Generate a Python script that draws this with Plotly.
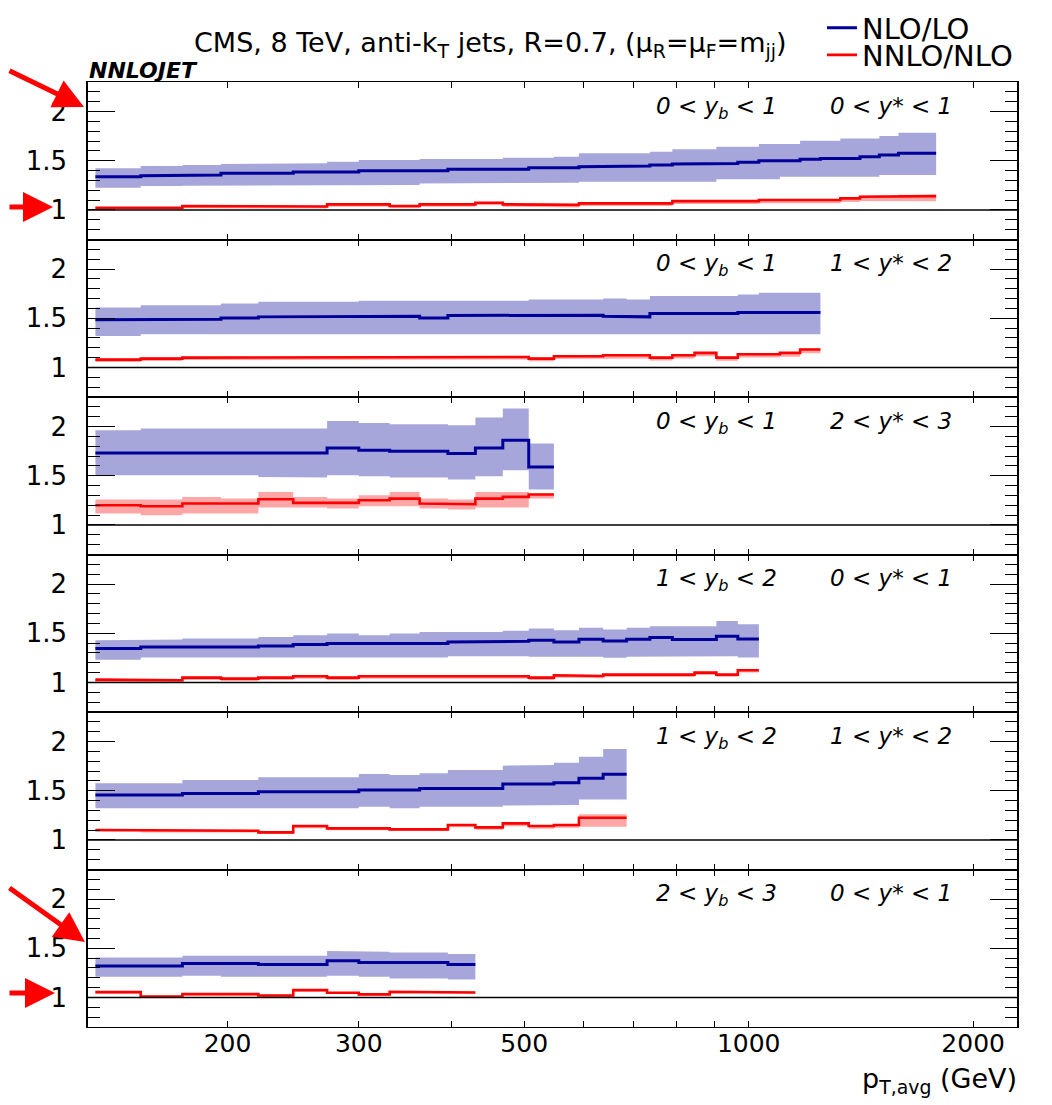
import numpy as np
import plotly.graph_objects as go

# ---------------- data ----------------
pt_edges = [133, 153, 174, 196, 220, 245, 272, 300, 330, 362, 395, 430, 468, 507, 548, 592,
            638, 686, 737, 790, 846, 905, 967, 1032, 1101, 1172, 1248, 1327, 1410, 1497, 1588,
            1684, 1784]

x_tick_vals = [200, 300, 500, 1000, 2000]
x_tick_text = ["200", "300", "500", "1000", "2000"]
x_minor_vals = [400, 600, 700, 800, 900]
x_long_vals = [1000, 2000]
y_tick_vals = [1, 1.5, 2]
y_tick_text = ["1", "1.5", "2"]
y_minor_vals = [0.8, 0.9, 1.1, 1.2, 1.3, 1.4, 1.6, 1.7, 1.8, 1.9, 2.1, 2.2]

yb_labels = ["0 &lt; y<sub>b</sub> &lt; 1", "0 &lt; y<sub>b</sub> &lt; 1", "0 &lt; y<sub>b</sub> &lt; 1",
             "1 &lt; y<sub>b</sub> &lt; 2", "1 &lt; y<sub>b</sub> &lt; 2", "2 &lt; y<sub>b</sub> &lt; 3"]
ys_labels = ["0 &lt; y* &lt; 1", "1 &lt; y* &lt; 2", "2 &lt; y* &lt; 3",
             "0 &lt; y* &lt; 1", "1 &lt; y* &lt; 2", "0 &lt; y* &lt; 1"]

# panel 1: 0<yb<1, 0<y*<1
p1_nlo = [1.338, 1.348, 1.355, 1.372, 1.372, 1.385, 1.385, 1.399, 1.399, 1.399, 1.413, 1.413, 1.413,
          1.429, 1.429, 1.439, 1.446, 1.446, 1.456, 1.467, 1.467, 1.473, 1.484, 1.501, 1.501, 1.514,
          1.524, 1.524, 1.541, 1.558, 1.575, 1.575]
p1_nlo_hi = [1.423, 1.446, 1.457, 1.467, 1.467, 1.474, 1.490, 1.507, 1.507, 1.518, 1.518, 1.518, 1.530,
             1.530, 1.541, 1.575, 1.575, 1.575, 1.592, 1.616, 1.616, 1.643, 1.643, 1.670, 1.670, 1.704,
             1.704, 1.727, 1.727, 1.751, 1.785, 1.785]
p1_nlo_lo = [1.226, 1.243, 1.247, 1.247, 1.247, 1.253, 1.253, 1.253, 1.253, 1.270, 1.270, 1.270, 1.277,
             1.277, 1.277, 1.287, 1.287, 1.287, 1.287, 1.287, 1.287, 1.311, 1.311, 1.311, 1.338, 1.338,
             1.338, 1.338, 1.338, 1.355, 1.355, 1.355]
p1_nnlo = [1.023, 1.023, 1.040, 1.040, 1.040, 1.035, 1.057, 1.057, 1.040, 1.057, 1.057, 1.074, 1.057,
           1.052, 1.052, 1.067, 1.067, 1.067, 1.067, 1.090, 1.090, 1.090, 1.090, 1.101, 1.101, 1.101,
           1.101, 1.118, 1.135, 1.135, 1.141, 1.141]
p1_nnlo_hi = [1.031, 1.031, 1.048, 1.048, 1.048, 1.043, 1.065, 1.065, 1.048, 1.065, 1.065, 1.082, 1.065,
              1.060, 1.060, 1.075, 1.075, 1.075, 1.075, 1.098, 1.098, 1.098, 1.098, 1.109, 1.109, 1.109,
              1.109, 1.126, 1.145, 1.145, 1.155, 1.155]
p1_nnlo_lo = [1.005, 1.005, 1.018, 1.018, 1.018, 1.014, 1.032, 1.032, 1.018, 1.032, 1.032, 1.048, 1.032,
              1.026, 1.026, 1.040, 1.040, 1.040, 1.040, 1.060, 1.060, 1.060, 1.060, 1.068, 1.068, 1.068,
              1.068, 1.080, 1.092, 1.092, 1.088, 1.088]

# panel 2: 0<yb<1, 1<y*<2
p2_nlo = [1.485, 1.490, 1.490, 1.503, 1.514, 1.514, 1.514, 1.520, 1.520, 1.503, 1.528, 1.528, 1.531,
          1.531, 1.531, 1.531, 1.521, 1.514, 1.548, 1.548, 1.548, 1.548, 1.558, 1.558, 1.558, 1.558]
p2_nlo_hi = [1.609, 1.633, 1.633, 1.650, 1.667, 1.667, 1.667, 1.677, 1.677, 1.677, 1.677, 1.677, 1.677,
             1.690, 1.690, 1.690, 1.700, 1.690, 1.727, 1.727, 1.727, 1.727, 1.740, 1.758, 1.758, 1.758]
p2_nlo_lo = [1.320, 1.337, 1.337, 1.337, 1.337, 1.337, 1.337, 1.337, 1.337, 1.337, 1.337, 1.337, 1.337,
             1.337, 1.337, 1.337, 1.337, 1.337, 1.337, 1.337, 1.337, 1.337, 1.337, 1.337, 1.337, 1.337]
p2_nnlo = [1.080, 1.090, 1.100, 1.107, 1.107, 1.100, 1.107, 1.107, 1.107, 1.100, 1.107, 1.107, 1.107,
           1.090, 1.114, 1.114, 1.124, 1.124, 1.100, 1.124, 1.148, 1.100, 1.134, 1.134, 1.148, 1.182]
p2_nnlo_hi = [1.090, 1.100, 1.108, 1.115, 1.115, 1.110, 1.115, 1.115, 1.115, 1.110, 1.115, 1.115, 1.115,
              1.100, 1.122, 1.122, 1.132, 1.132, 1.110, 1.132, 1.156, 1.110, 1.142, 1.142, 1.156, 1.192]
p2_nnlo_lo = [1.055, 1.065, 1.075, 1.080, 1.080, 1.075, 1.080, 1.080, 1.080, 1.075, 1.080, 1.080, 1.080,
              1.062, 1.085, 1.085, 1.092, 1.092, 1.070, 1.092, 1.115, 1.068, 1.100, 1.100, 1.110, 1.145]

# panel 3: 0<yb<1, 2<y*<3
p3_nlo = [1.732, 1.732, 1.732, 1.732, 1.732, 1.732, 1.783, 1.759, 1.749, 1.749, 1.725, 1.783, 1.861, 1.590]
p3_nlo_hi = [1.963, 1.980, 1.980, 1.980, 1.980, 1.980, 2.057, 2.037, 2.024, 2.024, 2.013, 2.091, 2.183, 1.827]
p3_nlo_lo = [1.505, 1.505, 1.505, 1.505, 1.488, 1.482, 1.505, 1.495, 1.482, 1.482, 1.461, 1.495, 1.556, 1.360]
p3_nnlo = [1.200, 1.190, 1.218, 1.218, 1.261, 1.224, 1.224, 1.251, 1.268, 1.218, 1.211, 1.268, 1.285, 1.309]
p3_nnlo_hi = [1.258, 1.258, 1.285, 1.268, 1.336, 1.285, 1.268, 1.302, 1.336, 1.268, 1.258, 1.336, 1.336, 1.319]
p3_nnlo_lo = [1.116, 1.099, 1.116, 1.116, 1.177, 1.177, 1.167, 1.190, 1.190, 1.167, 1.156, 1.177, 1.177, 1.268]

# panel 4: 1<yb<2, 0<y*<1
p4_nlo = [1.344, 1.361, 1.361, 1.361, 1.371, 1.385, 1.395, 1.395, 1.395, 1.395, 1.412, 1.412, 1.418,
          1.429, 1.412, 1.439, 1.422, 1.439, 1.456, 1.436, 1.436, 1.469, 1.442]
p4_nlo_hi = [1.429, 1.436, 1.446, 1.446, 1.463, 1.480, 1.497, 1.480, 1.497, 1.513, 1.513, 1.513, 1.525,
             1.547, 1.530, 1.557, 1.537, 1.557, 1.571, 1.571, 1.571, 1.625, 1.591]
p4_nlo_lo = [1.232, 1.253, 1.253, 1.253, 1.253, 1.253, 1.253, 1.253, 1.253, 1.253, 1.266, 1.266, 1.266,
             1.260, 1.253, 1.260, 1.250, 1.260, 1.266, 1.266, 1.266, 1.266, 1.253]
p4_nnlo = [1.029, 1.022, 1.049, 1.039, 1.049, 1.063, 1.049, 1.063, 1.063, 1.056, 1.063, 1.056, 1.063,
           1.049, 1.073, 1.066, 1.080, 1.080, 1.080, 1.080, 1.100, 1.080, 1.124]
p4_nnlo_hi = [1.037, 1.030, 1.057, 1.047, 1.057, 1.071, 1.057, 1.071, 1.071, 1.064, 1.071, 1.064, 1.071,
              1.057, 1.081, 1.074, 1.088, 1.088, 1.088, 1.088, 1.108, 1.088, 1.134]
p4_nnlo_lo = [1.006, 1.000, 1.025, 1.015, 1.025, 1.038, 1.025, 1.038, 1.038, 1.032, 1.038, 1.032, 1.038,
              1.025, 1.048, 1.042, 1.055, 1.055, 1.050, 1.055, 1.075, 1.058, 1.100]

# panel 5: 1<yb<2, 1<y*<2
p5_nlo = [1.457, 1.457, 1.473, 1.473, 1.490, 1.490, 1.490, 1.507, 1.507, 1.524, 1.524, 1.524, 1.568,
          1.568, 1.582, 1.626, 1.667]
p5_nlo_hi = [1.575, 1.575, 1.609, 1.609, 1.636, 1.636, 1.636, 1.670, 1.660, 1.677, 1.711, 1.711, 1.755,
             1.761, 1.785, 1.846, 1.924]
p5_nlo_lo = [1.321, 1.321, 1.321, 1.321, 1.321, 1.321, 1.321, 1.338, 1.321, 1.338, 1.338, 1.338, 1.350,
             1.355, 1.355, 1.412, 1.412]
p5_nnlo = [1.101, 1.094, 1.094, 1.094, 1.077, 1.142, 1.118, 1.118, 1.108, 1.108, 1.152, 1.128, 1.169,
           1.142, 1.152, 1.226, 1.226]
p5_nnlo_hi = [1.110, 1.102, 1.102, 1.102, 1.085, 1.150, 1.126, 1.126, 1.116, 1.116, 1.160, 1.136, 1.178,
              1.152, 1.162, 1.262, 1.262]
p5_nnlo_lo = [1.085, 1.075, 1.075, 1.075, 1.060, 1.120, 1.098, 1.098, 1.090, 1.090, 1.128, 1.105, 1.140,
              1.115, 1.125, 1.135, 1.135]

# panel 6: 2<yb<3, 0<y*<1
p6_nlo = [1.319, 1.319, 1.346, 1.346, 1.336, 1.336, 1.373, 1.356, 1.356, 1.356, 1.336]
p6_nlo_hi = [1.407, 1.407, 1.424, 1.424, 1.424, 1.424, 1.471, 1.464, 1.458, 1.458, 1.441]
p6_nlo_lo = [1.210, 1.210, 1.220, 1.210, 1.210, 1.210, 1.220, 1.210, 1.193, 1.193, 1.183]
p6_nnlo = [1.054, 1.010, 1.034, 1.034, 1.020, 1.075, 1.048, 1.031, 1.058, 1.058, 1.051]
p6_nnlo_hi = [1.062, 1.018, 1.042, 1.042, 1.028, 1.083, 1.056, 1.039, 1.066, 1.066, 1.059]
p6_nnlo_lo = [1.040, 0.995, 1.020, 1.020, 1.005, 1.060, 1.034, 1.018, 1.044, 1.044, 1.038]

panels = [
    (p1_nlo, p1_nlo_lo, p1_nlo_hi, p1_nnlo, p1_nnlo_lo, p1_nnlo_hi),
    (p2_nlo, p2_nlo_lo, p2_nlo_hi, p2_nnlo, p2_nnlo_lo, p2_nnlo_hi),
    (p3_nlo, p3_nlo_lo, p3_nlo_hi, p3_nnlo, p3_nnlo_lo, p3_nnlo_hi),
    (p4_nlo, p4_nlo_lo, p4_nlo_hi, p4_nnlo, p4_nnlo_lo, p4_nnlo_hi),
    (p5_nlo, p5_nlo_lo, p5_nlo_hi, p5_nnlo, p5_nnlo_lo, p5_nnlo_hi),
    (p6_nlo, p6_nlo_lo, p6_nlo_hi, p6_nnlo, p6_nnlo_lo, p6_nnlo_hi),
]

# ---------------- style ----------------
OFF = 8                      # default page (body) margin of the html page
W, H = 1052 - OFF, 1105 - OFF
ML, MR, MT, MB = 88 - OFF, 35, 82 - OFF, 78
PW, PH = W - ML - MR, H - MT - MB
FONT = "DejaVu Sans"
BLUE, BLUE_BAND = "#000099", "rgba(0,0,153,0.35)"
RED, RED_BAND = "#ff0000", "rgba(255,0,0,0.35)"
XR = [np.log10(130), np.log10(2290)]
YR = [0.7, 2.3]


def steps(edges, vals):
    xs = np.repeat(np.asarray(edges, float), 2)[1:-1]
    ys = np.repeat(np.asarray(vals, float), 2)
    return xs, ys


def px2paper(px, py):
    """page pixel -> paper fraction"""
    fx, fy = px - OFF, py - OFF
    return (fx - ML) / PW, (MT + PH - fy) / PH


def px2cont(px, py):
    fx, fy = px - OFF, py - OFF
    return fx / W, 1 - fy / H


fig = go.Figure()
layout = {}
annotations = []
shapes = []
n = len(panels)

for i, (nlo, nlo_lo, nlo_hi, nnlo, nnlo_lo, nnlo_hi) in enumerate(panels):
    k = i + 1
    sfx = "" if k == 1 else str(k)
    xa, ya = "x" + sfx, "y" + sfx
    edges = pt_edges[:len(nlo) + 1]

    for lo, hi, col in ((nlo_lo, nlo_hi, BLUE_BAND), (nnlo_lo, nnlo_hi, RED_BAND)):
        xs, yh = steps(edges, hi)
        _, yl = steps(edges, lo)
        fig.add_trace(go.Scatter(x=np.concatenate([xs, xs[::-1]]), y=np.concatenate([yh, yl[::-1]]),
                                 fill="toself", fillcolor=col, line=dict(width=0), mode="lines",
                                 hoverinfo="skip", showlegend=False, xaxis=xa, yaxis=ya))
    for vals, col, w, name, lg in ((nlo, BLUE, 3, "NLO/LO", "legend"),
                                   (nnlo, RED, 2.6, "NNLO/NLO", "legend2")):
        xs, ys = steps(edges, vals)
        fig.add_trace(go.Scatter(x=xs, y=ys, mode="lines", line=dict(color=col, width=w),
                                 name=name, showlegend=(k == 1), legend=lg, xaxis=xa, yaxis=ya))

    d0, d1 = 1 - k / n, 1 - (k - 1) / n
    layout["xaxis" + sfx] = dict(
        domain=[0, 1], anchor=ya, type="log", range=XR,
        tickmode="array", tickvals=x_tick_vals, ticktext=x_tick_text,
        ticks="inside", ticklen=6, tickwidth=1.2, tickcolor="black",
        showline=True, linecolor="black", linewidth=1, mirror="ticks",
        showgrid=False, zeroline=False, showticklabels=(k == n),
        ticklabelstandoff=-6,
        tickfont=dict(family=FONT, size=25, color="black"),
        minor=dict(tickmode="array", tickvals=x_minor_vals, ticks="inside", ticklen=6,
                   tickwidth=1.2, tickcolor="black", showgrid=False),
    )
    layout["xaxis" + str(n + k)] = dict(
        overlaying=xa, anchor=ya, type="log", range=XR,
        tickmode="array", tickvals=x_long_vals, ticks="inside", ticklen=12, tickwidth=1.2,
        tickcolor="black", mirror="ticks", showline=False, showgrid=False, zeroline=False,
        showticklabels=False,
    )
    layout["yaxis" + sfx] = dict(
        domain=[d0, d1], anchor=xa, range=YR,
        tickmode="array", tickvals=y_tick_vals, ticktext=y_tick_text,
        ticks="inside", ticklen=27, tickwidth=1.2, tickcolor="black",
        showline=True, linecolor="black", linewidth=1.5, mirror="ticks",
        showgrid=False, zeroline=False, ticklabelstandoff=14,
        tickfont=dict(family=FONT, size=26, color="black"),
        minor=dict(tickmode="array", tickvals=y_minor_vals, ticks="inside", ticklen=12,
                   tickwidth=1.2, tickcolor="black", showgrid=False),
    )
    shapes.append(dict(type="line", xref=xa + " domain", x0=0, x1=1, yref=ya, y0=1, y1=1,
                       line=dict(color="black", width=1.5)))
    lx1, _ = px2paper(654, 0)
    lx2, _ = px2paper(828, 0)
    annotations.append(dict(text="<i>" + yb_labels[i] + "</i>", xref="paper", yref=ya, x=lx1, y=2.21,
                            xanchor="left", yanchor="top", showarrow=False,
                            font=dict(family=FONT, size=23, color="black")))
    annotations.append(dict(text="<i>" + ys_labels[i] + "</i>", xref="paper", yref=ya, x=lx2, y=2.21,
                            xanchor="left", yanchor="top", showarrow=False,
                            font=dict(family=FONT, size=23, color="black")))

# title, tag, axis title
tx, ty = px2paper(490, 44)
annotations.append(dict(text="CMS, 8 TeV, anti-k<sub>T</sub> jets, R=0.7, (μ<sub>R</sub>=μ<sub>F</sub>=m<sub>jj</sub>)",
                        xref="paper", yref="paper", x=tx, y=ty, xanchor="center", yanchor="middle",
                        showarrow=False, font=dict(family=FONT, size=27, color="black")))
nx, ny = px2paper(87, 71)
annotations.append(dict(text="<b><i>NNLOJET</i></b>", xref="paper", yref="paper", x=nx, y=ny,
                        xanchor="left", yanchor="middle", showarrow=False,
                        font=dict(family=FONT, size=22, color="black")))
ax_, ay_ = px2paper(1019, 1080)
annotations.append(dict(text="p<sub>T,avg</sub> (GeV)", xref="paper", yref="paper", x=ax_, y=ay_,
                        xanchor="right", yanchor="middle", showarrow=False,
                        font=dict(family=FONT, size=27, color="black")))

# red arrows
for (tipx, tipy, dx, dy) in ((84, 107, -92, -37), (53, 207, -60, 0), (85, 942, -95, -55), (55, 993, -60, 0)):
    px_, py_ = px2paper(tipx, tipy)
    annotations.append(dict(text="", xref="paper", yref="paper", x=px_, y=py_, ax=dx, ay=dy,
                            showarrow=True, arrowhead=2, arrowsize=1.2, arrowwidth=5,
                            arrowcolor="#ff0000", standoff=0))

lg1x, lg1y = px2cont(822, 28)
lg2x, lg2y = px2cont(822, 55)
fig.update_layout(
    width=W, height=H, margin=dict(l=ML, r=MR, t=MT, b=MB, autoexpand=False),
    paper_bgcolor="white", plot_bgcolor="white",
    annotations=annotations, shapes=shapes,
    legend=dict(xref="container", yref="container", x=lg1x, y=lg1y,
                xanchor="left", yanchor="middle", font=dict(family=FONT, size=29, color="black"),
                bgcolor="rgba(0,0,0,0)", itemwidth=30),
    legend2=dict(xref="container", yref="container", x=lg2x, y=lg2y,
                 xanchor="left", yanchor="middle", font=dict(family=FONT, size=29, color="black"),
                 bgcolor="rgba(0,0,0,0)", itemwidth=30),
    **layout,
)

fig.write_html("out.html")
